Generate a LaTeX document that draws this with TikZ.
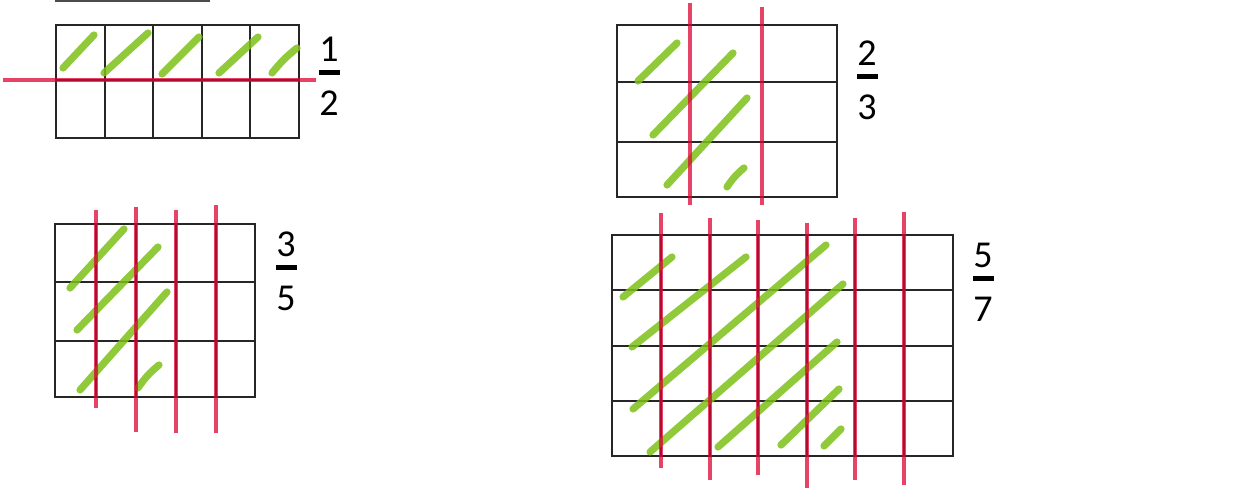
\documentclass[tikz,border=0pt]{standalone}
\usepackage{fontspec}
\setmainfont{Carlito}
\definecolor{pen}{HTML}{DD0434}
\definecolor{hatch}{HTML}{7CC017}
\usetikzlibrary{positioning}

\begin{document}
\begin{tikzpicture}[x=0.5pt,y=-0.5pt,
  cellline/.style={draw=black!85,line width=0.65pt},
  redcut/.style={draw=pen,line width=1.6pt,draw opacity=0.75},
  greenhatch/.style={draw=hatch,line width=3.6pt,line cap=round,draw opacity=0.85},
  digit/.style={font=\fontsize{19}{22}\selectfont,inner sep=0pt},
  fracbar/.style={fill=black,inner sep=0pt,minimum width=10.5pt,minimum height=2.4pt}]
  \useasboundingbox (0,0) rectangle (1237,490);
  \draw[black!70,line width=1pt] (55,1) -- (210,1);

  % 1/2
  \draw[cellline] (56,25) rectangle (299,138);
  \foreach \x in {105,153,202,250} \draw[cellline] (\x,25) -- (\x,138);
  \draw[cellline] (56,80) -- (299,80);
  % 2/3
  \draw[cellline] (617,25) rectangle (837,197);
  \foreach \y in {82,142} \draw[cellline] (617,\y) -- (837,\y);
  % 3/5
  \draw[cellline] (55,224) rectangle (255,397);
  \foreach \x in {96,136,176,216} \draw[cellline] (\x,224) -- (\x,397);
  \foreach \y in {282,341} \draw[cellline] (55,\y) -- (255,\y);
  % 5/7
  \draw[cellline] (612,235) rectangle (953,456);
  \foreach \x in {661,710,758,807,855,904} \draw[cellline] (\x,235) -- (\x,456);
  \foreach \y in {290,346,401} \draw[cellline] (612,\y) -- (953,\y);

  % green hatching
  \draw[greenhatch] (63,68) -- (94,35);
  \draw[greenhatch] (104,73) -- (148,33);
  \draw[greenhatch] (162,74) -- (199,37);
  \draw[greenhatch] (219,73) -- (258,37);
  \draw[greenhatch] (272,73) to[bend left=6] (297,48);
  \draw[greenhatch] (638,81) -- (677,43);
  \draw[greenhatch] (653,135) -- (733,53);
  \draw[greenhatch] (667,185) -- (747,98);
  \draw[greenhatch] (727,187) to[bend left=8] (744,168);
  \draw[greenhatch] (70,288) -- (124,229);
  \draw[greenhatch] (77,330) -- (158,247);
  \draw[greenhatch] (80,390) -- (167,292);
  \draw[greenhatch] (138,388) to[bend left=8] (159,365);
  \draw[greenhatch] (623,297) -- (672,257);
  \draw[greenhatch] (632,347) -- (746,257);
  \draw[greenhatch] (633,409) -- (826,245);
  \draw[greenhatch] (650,452) -- (843,284);
  \draw[greenhatch] (718,447) -- (837,342);
  \draw[greenhatch] (781,445) -- (839,389);
  \draw[greenhatch] (824,446) -- (841,429);

  % red cuts
  \draw[redcut] (3,80) -- (316,80);
  \foreach \x/\a/\b in {690/3/205,762/7/205} \draw[redcut] (\x,\a) -- (\x,\b);
  \foreach \x/\a/\b in {96/210/408,136/207/432,176/210/433,216/205/433}
    \draw[redcut] (\x,\a) -- (\x,\b);
  \foreach \x/\a/\b in {661/213/468,710/218/480,758/220/475,807/223/488,855/218/480,904/212/485}
    \draw[redcut] (\x,\a) -- (\x,\b);

  % fractions
  \node[digit] (n1) at (329,49) {1};
  \node[fracbar,below=4pt of n1] (b1) {};
  \node[digit,below=7.5pt of b1] (d1) {2};
  \node[digit] (n2) at (867,53) {2};
  \node[fracbar,below=4pt of n2] (b2) {};
  \node[digit,below=7.5pt of b2] (d2) {3};
  \node[digit] (n3) at (286,244) {3};
  \node[fracbar,below=4pt of n3] (b3) {};
  \node[digit,below=7.5pt of b3] (d3) {5};
  \node[digit] (n4) at (983,255) {5};
  \node[fracbar,below=4pt of n4] (b4) {};
  \node[digit,below=7.5pt of b4] (d4) {7};
\end{tikzpicture}
\end{document}
